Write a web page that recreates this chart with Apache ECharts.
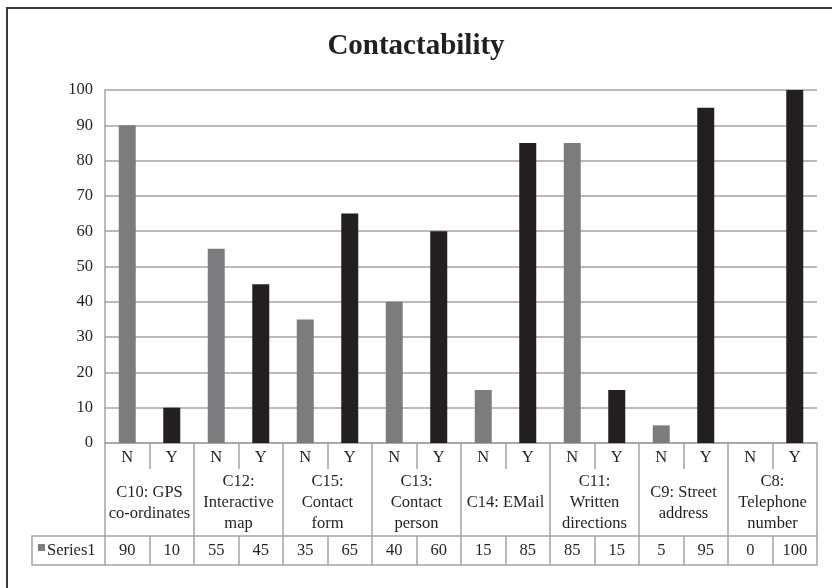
<!DOCTYPE html>
<html>
<head>
<meta charset="utf-8">
<script src="https://cdn.jsdelivr.net/npm/echarts@6/dist/echarts.min.js"></script>
<style>
html,body{margin:0;padding:0;background:#fff;}
#chart{width:832px;height:588px;}
</style>
</head>
<body>
<div id="chart"></div>
<script>
const title = 'Contactability';
const seriesName = 'Series1';
const groups = ['C10: GPS\nco-ordinates', 'C12:\nInteractive\nmap', 'C15:\nContact\nform', 'C13:\nContact\nperson', 'C14: EMail', 'C11:\nWritten\ndirections', 'C9: Street\naddress', 'C8:\nTelephone\nnumber'];
const answers = ['N','Y','N','Y','N','Y','N','Y','N','Y','N','Y','N','Y','N','Y'];
const values = [90, 10, 55, 45, 35, 65, 40, 60, 15, 85, 85, 15, 5, 95, 0, 100];
const yTicks = {min: 0, max: 100, interval: 10};

const FONT = '"Liberation Serif", "Times New Roman", serif';
const GRID_GRAY = '#a3a3a3';
const N_COLOR = '#7c7c7e';
const Y_COLOR = '#231f20';
const TXT = '#231f20';
const FS = 16.5;

const chart = echarts.init(document.getElementById('chart'), null, {renderer: 'canvas'});
const gridLeft = 105, gridRight = 15, gridTop = 90, gridBottom = 145;

const option = {
  backgroundColor: '#fff',
  animation: false,
  title: {
    text: title, left: 'center', top: 27,
    textStyle: {fontFamily: FONT, fontSize: 29, fontWeight: 'bold', color: TXT}
  },
  grid: {left: gridLeft, right: gridRight, top: gridTop, bottom: gridBottom, containLabel: false},
  yAxis: {
    type: 'value', min: yTicks.min, max: yTicks.max, interval: yTicks.interval,
    axisLine: {show: true, lineStyle: {color: GRID_GRAY, width: 1.5}},
    axisTick: {show: false},
    axisLabel: {fontFamily: FONT, fontSize: FS, color: TXT, margin: 12},
    splitLine: {show: true, lineStyle: {color: GRID_GRAY, width: 1.5}}
  },
  xAxis: [
    {
      type: 'category', data: answers, gridIndex: 0, position: 'bottom', offset: 0,
      axisLine: {show: true, lineStyle: {color: GRID_GRAY, width: 1.5}},
      axisTick: {show: true, length: 26, interval: 0, lineStyle: {color: GRID_GRAY, width: 1.5}},
      axisLabel: {interval: 0, fontFamily: FONT, fontSize: FS, color: TXT, margin: 15, verticalAlign: 'middle'}
    },
    {
      type: 'category', data: groups, gridIndex: 0, position: 'bottom', offset: 0,
      axisLine: {show: false},
      axisTick: {show: true, length: 93, interval: 0, lineStyle: {color: GRID_GRAY, width: 1.5}},
      axisLabel: {interval: 0, fontFamily: FONT, fontSize: FS, lineHeight: 21, color: TXT, margin: 60, verticalAlign: 'middle'}
    },
    {
      type: 'category', data: answers.map((a, i) => String(values[i])), gridIndex: 0, position: 'bottom', offset: 93,
      axisLine: {show: true, lineStyle: {color: GRID_GRAY, width: 1.5}},
      axisTick: {show: true, length: 29, interval: 0, lineStyle: {color: GRID_GRAY, width: 1.5}},
      axisLabel: {interval: 0, fontFamily: FONT, fontSize: FS, color: TXT, margin: 15, verticalAlign: 'middle'}
    },
    {
      type: 'category', data: answers, gridIndex: 0, position: 'bottom', offset: 122,
      axisLine: {show: true, lineStyle: {color: GRID_GRAY, width: 1.5}},
      axisTick: {show: false},
      axisLabel: {show: false}
    }
  ],
  series: [{
    name: seriesName, type: 'bar', xAxisIndex: 0, barWidth: 17,
    data: values.map((v, i) => ({value: v, itemStyle: {color: answers[i] === 'N' ? N_COLOR : Y_COLOR}}))
  }],
  graphic: [
    {type: 'rect', shape: {x: 7, y: 8, width: 900, height: 700}, style: {fill: null, stroke: '#3a3a3a', lineWidth: 2}, silent: true},
    {type: 'polyline', shape: {points: [[105, 536], [32, 536], [32, 565], [105, 565]]}, style: {fill: null, stroke: GRID_GRAY, lineWidth: 1.5}},
    {type: 'rect', shape: {x: 38, y: 544, width: 7, height: 7}, style: {fill: N_COLOR}},
    {type: 'text', x: 47, y: 551, style: {text: seriesName, font: FS + 'px ' + FONT, fill: TXT, verticalAlign: 'middle'}}
  ]
};
chart.setOption(option);
</script>
</body>
</html>
